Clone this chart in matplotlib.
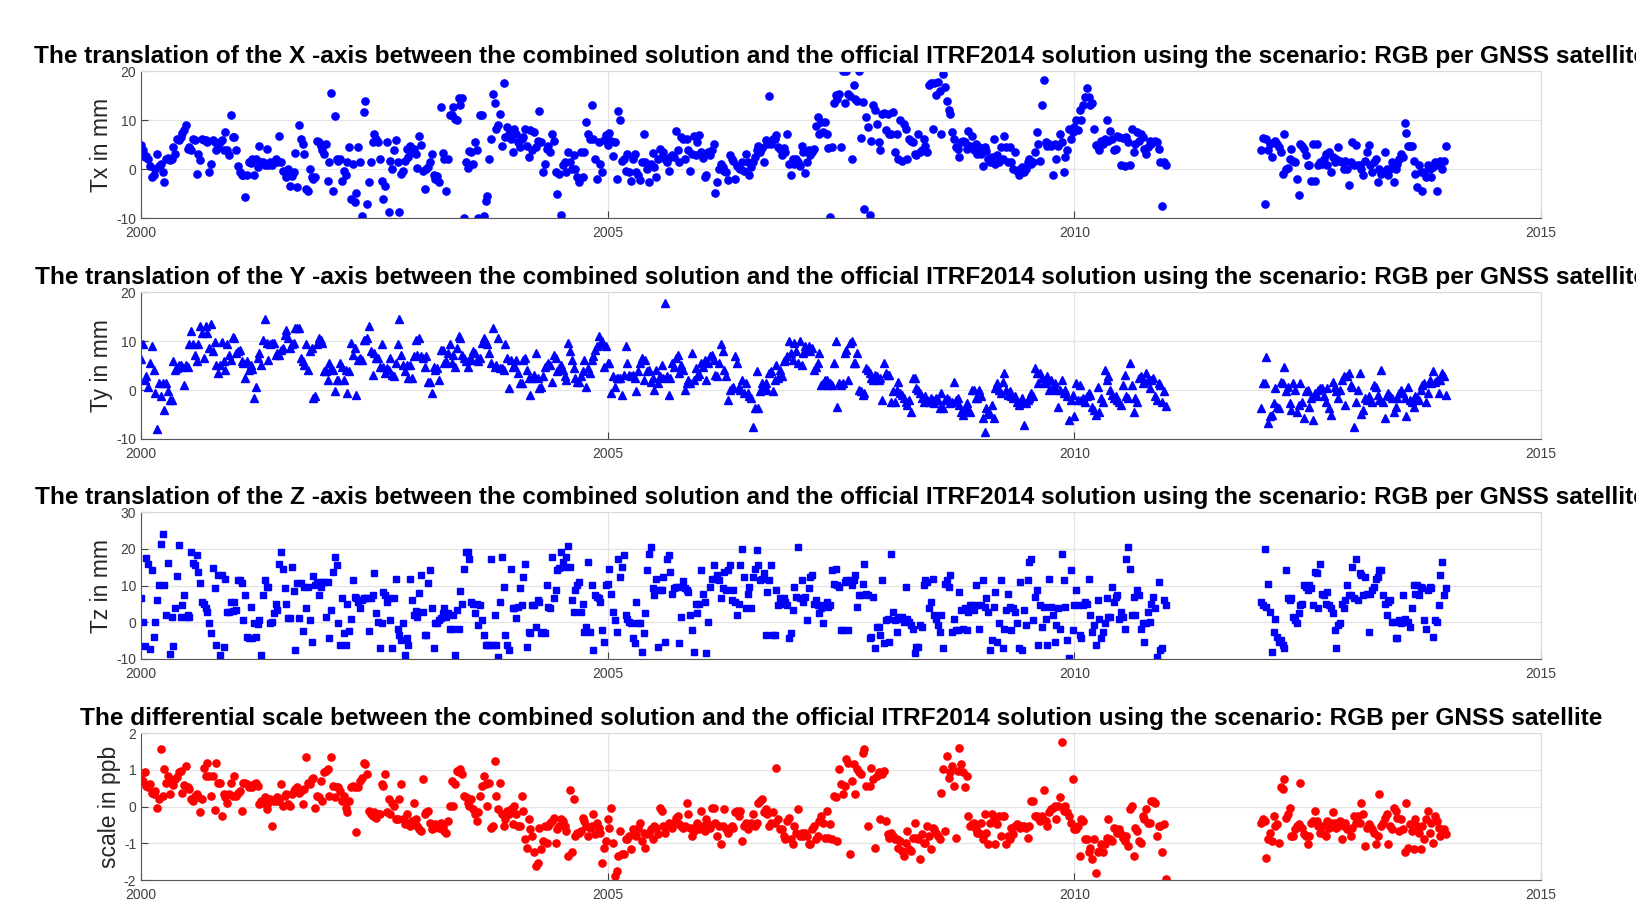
import numpy as np
import matplotlib.pyplot as plt

plt.rcParams['font.family'] = ['Liberation Sans', 'DejaVu Sans']
plt.rcParams['axes.unicode_minus'] = False

# weekly solutions: first block starts 2000.0, second block starts 2012.0
start_a = 2000.0
start_b = 2012.0
per_year = 52

# Tx [mm], weekly, 2000 .. 2010
tx_a = [
    5, 4, 2.4, 2.7, 2, 0.6, -1.7, -1.3, 0, 3, 0.7, 1, -0.6, -2.7, 2, 2.2, 1.8, 2.1, 4.5, 3,
    6.2, 6, 6.5, 7.3, 8, 9, 4.1, 4.5, 4, 6.2, 6, -1, 3, 1.8, 6.2, 6, 6, 5.5, -0.6, 1,
    6, 5.5, 4, 4.5, 5.5, 6, 4, 7.6, 4, 2.8, 11.1, 6.5,
    6.5, 4, 0.6, -0.6, -1.3, -1.2, -5.8, -1.3, 1.4, 1.3, 2, -1.3, 2, 0.4, 4.8, 1.4, 1.5, 0.8, 4.1, 0.8,
    1.4, 0.8, 1.4, 2, 1.5, 6.7, 1.4, -0.3, -0.6, -1.7, 0, -3.4, -1.5, -0.5, 3.3, -3.6, 9, 6.2, 5.2, 3.1,
    -4, -4.4, 0, -1.7, -2, -1.7, 5.8, 5.5, 4.8, 3.8, 3.1, 5.2,
    -2.4, 1.4, 15.6, -4.4, 10.8, 2, 1.7, 2, -2.4, -0.3, -1.3, 1.4, 4.5, -6.1, 1, -6.8, -4.8, 4.5, 1.4, -9.5,
    11.7, 14, -7.1, -2.7, 1.5, 5.5, 7.2, 6.2, 5.5, 2, -2.4, -6.1, -3.5, 5.6, -8.8, 1.7, 0, 3.8, 6, 1.4,
    -8.8, -1, -0.3, 1.7, 4.1, 2.4, 4.8, 3.5, 4.1, 3.1, 0.2, 6.7,
    5, -0.3, -4, 0.1, 0.4, 1.4, 3, -1.3, -2, -1.5, -2.7, 12.7, 3.3, 2, -4.4, 2, 11.1, 11, 12.7, 10.3,
    10, 14.5, 13, 14.5, -9.9, 1.4, 0.2, 3.6, 3.5, 1, 5.5, 4, -9.9, 11, 11.1, -9.5, -6.5, -5.4, 2, 6.2,
    15.4, 13.4, 8.2, 9, 11.3, 4.8, 17.5, 6.5, 8.6, 7.2, 6.2, 3.5,
    8.2, 7.2, 5.5, 4.5, 6.2, 6.5, 8.2, 4.8, 2.4, 7.9, 3.8, 7.5, 4.5, 5.8, 11.8, 5.5, -0.6, 1, 4.1, 4.8,
    3.5, 7.2, 5.8, -0.6, -5.1, -1, -9.3, 0.8, 1.4, -0.6, 3.5, 1.4, 0, 2.8, 0, -1.7, -2.7, 3.5, -1.7, 3.5,
    9.7, 7.2, 6.2, 13, 6.2, 2, -2, 5.5, 1, -0.5, 6, 7,
    5, 7.4, 5.7, 2.6, 5.5, -2, 11.9, 10, 1.6, 2, -0.3, 3.1, -0.5, -2.5, 2, 3, -0.5, -1.2, -2.3, 1.4,
    7.2, 1.5, 0, -2.6, 1, 3.3, 0.4, -1.6, 2, 4.1, 2.5, 3.5, 2, 1.4, -0.3, 2.4, 2.8, 2.4, 7.8, 3.8,
    1.4, 6.5, 6.2, 2, 6.2, 3.8, -0.3, 3.1, 6.7, 2.8, 5.5, 6.9,
    3.5, 2.2, -1.7, -1.3, 3.5, 2.8, 3.8, 5.2, -4.9, -2.7, 0, 1, 0.4, -0.3, -0.6, -2.3, 2.8, 2, 1.7, -2,
    0.7, 0.2, 0, 1.4, -0.3, 3, 1.4, -1.3, 0.4, 1.4, 2.4, 3.8, 4.8, 3.5, 4.3, 1.4, 6, 5.2, 14.9, 5.2,
    6.2, 6.2, 6.9, 4.5, 4.1, 2.8, 4.3, 3.5, 7.2, 1, -1.3, 2,
    1, 2, 1.4, 0.7, 4.8, 3.5, -0.8, 1.4, 3.8, 2.8, 3.5, 4.1, 8.9, 10.6, 7.2, 9.6, 7.5, 9.6, 7.2, 4.3,
    -9.7, 4.5, 13.4, 15.1, 14.4, 15.4, 4.5, 20, 13.4, 20, 15.4, 15, 2, 17.1, 14.4, 14, 20, 6.3, 13.7, -8.2,
    10.6, 8.6, -9.4, 5.8, 13, 12, 9.3, 5.5, 3.8, 11.3, 11.5, 8,
    11.3, 7.2, 7.2, 11.7, 3.5, 7.2, 2, 10, 1.7, 9.3, 8.2, 2, 6.2, 5.7, 5.5, 3.1, 2.8, 7.2, 3.5, 3.8,
    6.2, 4.8, 3.5, 17.1, 17.5, 8.2, 17.5, 15.1, 17.8, 16, 7.2, 19.5, 16.8, 14, 12, 11.3, 7.6, 6.2, 4.5, 4.1,
    2.4, 5.5, 5.8, 5.5, 4.1, 7.7, 4.8, 6.8, 4, 5.2, 3, 4.5,
    3.1, 0.6, 4.5, 3.6, 2, 1.4, 2.4, 6.2, 1, 2.8, 1.4, 4.5, 2, 6.8, 4.5, 1.4, 4.5, 1.4, 0, 3.5,
    -0.3, -1.3, 0, 0.4, -0.6, 0, 1.4, 2, 1, 1.4, 3.5, 7.6, 5.2, 1.7, 13, 18.2, 5.5, 4.8, 5.2, 4.8,
    -1.3, 5.2, 2, 4.8, 7.2, 5.5, -0.6, 2.4, 3.8, 8.2, 6.2, 7.5,
    8.5, 10, 8, 12, 10, 13, 14.7, 16.6, 14.7, 13, 13.4, 8.2, 5, 4.5, 3.8, 5.8, 5.2, 6.2, 10, 5.8,
    7.8, 6.2, 3.8, 4.1, 6.8, 6.5, 0.8, 6.3, 0.6, 6.5, 5.5, 0.8, 8.2, 3.5, 5.2, 7.6, 5.8, 7.2, 6.5, 4.1,
    3.1, 4.5, 5.8, 5.2, 5.5, 5.8, 5.5, 4.1, 1.4, -7.5, 1.4, 0.8,
]
# Tx [mm], weekly, 2012 .. 2013
tx_b = [
    3.8, 6.3, -7.1, 6.2, 3.8, 5.2, 2.4, 5.5, 5.8, 5.2, 4.5, 3.5, -1, 7.2, 0, 0.2, 2, 4.1, 1.7, 1.4,
    -2, -5.3, 5.2, 4.8, 4.1, 2.8, 0.8, 0.8, -2.4, 5.2, -2.4, 5.2, 0.8, 1.4, 1, 2, 3.1, 0.8, 3.5, -0.6,
    2.4, 1.4, 2, 4.5, 1.7, 1.4, 0, 1.7, 0, -3.2, 1.4, 5.5, 0.8, 5, 0.8, 0.8, 0, -1.3, 1.7, 3.5,
    5, 0.8, -0.6, 1.4, 2, -2.7, 0, -1, -0.6, 3.5, 0, -1.3, 0, 1.4, -2.7, 0, 1, 2, 3.1, 2.4,
    9.4, 7.4, 4.8, 4.8, 4.8, 1.7, -1, -3.7, 0.8, -0.6, -4.4, -0.6, -1.7, 0.8, 0, -1.7, 0.4, 1.4, -4.4, 0.8,
    1.7, 0, 1.7, 4.8,
]

# Ty [mm]
ty_a = [
    6.3, 9.3, 2.1, 2.8, 0.6, 5.5, 9, 4, -0.6, -8, 1.4, -1.3, 1.5, -4, 1.4, -0.3, -2, -2.1, 5.9, 4.1,
    4.5, 5.2, 5.2, 4.8, 1, 5.2, 4.8, 9.3, 12, 9.3, 7.2, 5.9, 9.3, 13, 11.7, 6.5, 13, 11.7, 8.6, 13.4,
    7.9, 9.8, 5.2, 3.5, 5.2, 9.8, 5.9, 4.1, 9.3, 7.2, 6.2, 10.9,
    10.6, 7.6, 7.9, 8.2, 5.9, 5.5, 2.4, 5.9, 4.1, 5.2, 4.3, -1.7, 0.6, 6.5, 7.6, 5.2, 10.3, 14.5, 9.6, 6.2,
    9.3, 9.6, 9.6, 7.2, 7.6, 7.2, 8.2, 8.6, 11.3, 12.3, 10.6, 8.6, 9.3, 9.6, 12.7, 12.7, 12.7, 6.5, 5.9, 5.2,
    9.3, 4.1, 7.9, 8.6, -1.7, -1.3, 9.3, 10.6, 10.3, 9.6, 3.8, 3.8,
    2.1, 5.5, 4.5, 4.1, -0.3, 2.1, 2.1, 5.5, 4.8, 2.1, 4.1, -0.6, 3.8, 9.6, 7.2, 8.6, -1, 6.2, 6.5, 6.2,
    10.3, 10.3, 10.6, 13, 7.9, 3.1, 7.6, 6.5, 6.5, 4.8, 9.3, 4.8, 3.5, 4.5, 4.1, 6.5, 3.1, 2.8, 5.5, 9.3,
    14.5, 7.2, 5.2, 3.8, 5.2, 2.4, 5.2, 2.4, 6.9, 10.3, 7.2, 10.6,
    6.9, 6.5, 4.8, 6.9, 1.7, 1.7, -0.6, 4.8, 4.1, 4.5, 2.1, 8.2, 8.2, 5.5, 5.9, 7.6, 9.3, 5.5, 7.2, 4.8,
    8.6, 11, 10.6, 7.2, 6.5, 5.9, 4.8, 6.2, 6.3, 7.9, 7.6, 6.2, 5.9, 6.5, 9.6, 10.6, 9.9, 9.3, 7.6, 5.5,
    12.7, 4.8, 5.2, 10.6, 4.5, 4.5, 4.1, 9.3, 6.5, 0.4, 6.2, 4.8,
    5.2, 6.2, 3.5, 1.4, 1.4, 6.2, 6.5, 4.1, 2.4, -1, 2.4, 3.1, 7.6, 2.4, 0.4, 0.7, 2.8, 4.8, 5.2, 5.5,
    5.2, 1.7, 7.2, 6.5, 3.8, 4.5, 5.2, 4.1, 2.8, 2.1, 9.6, 7.9, 6.2, 4.5, 2.4, 1.7, 1.7, 2.8, 3.8, 6.2,
    0.7, 4.5, 3.5, 6.2, 6.9, 8.2, 8.9, 11, 9.3, 10, 4.8, 8.9,
    5.5, 5.5, -0.6, 2.8, 0.7, 2.4, 2.4, 2.4, -1, 3.1, 9, 5.5, 3.1, 2.8, 3.1, 2.4, -0.3, 3.8, 5.5, 6.5,
    2.1, 6.2, 3.8, 4.1, 1.7, 2.4, 0, 4.1, 1.4, 2.8, 5.2, 2.4, 17.8, 2.8, -1, 2.4, 5.5, 4.8, 6.5, 7.2,
    3.5, 5.2, 4.1, 0, 1.4, 2.1, 1.4, 7.6, 2.1, 4.5, 2.8, 3.3,
    5.5, 4.8, 6.2, 2.1, 5.5, 6.9, 7.2, 6.2, 3.1, 2.8, 5.5, 9.3, 7.9, 4.1, 2.8, -2, 0, 0.4, 0.7, 6.9,
    5.5, 0.7, 0, 2.1, -0.6, 1.4, -0.6, -1.3, -1.7, -7.5, -3.7, 3.8, -3.7, -0.3, 1.4, 0.7, 1.4, 0, 3.5, 3.8,
    -0.3, 2.1, 5.2, 2.4, 4.1, 2.8, 5.9, 6.2, 6.9, 10, 7.6, 6.2,
    9.6, 7.9, 5.5, 10, 5.2, 7.6, 9, 8.2, 9, 7.9, 8.6, 4.1, 4.8, 5.5, 7.6, 1, 1.4, 2.1, 2.1, 1,
    1.4, 1, 5.5, 10, -3.4, 1.4, 1, 1.4, 7.6, 8.2, 2.1, 9.6, 10, 5.5, 5.5, 7.6, 0, -0.3, -1, -0.6,
    4.5, 4.1, 3.5, 2.4, 2.1, 3.1, 2.8, 2.1, 2.4, -2, 5.5, 3.5,
    3.1, 3.1, -2.4, -0.3, -2.4, 0, 1.7, -0.6, -1, -1.7, -2.4, -3, -2, -4.4, 2.4, 2.4, 0.4, 0, -0.6, -1.7,
    -2.4, -1.3, -2, -2.4, -1.7, -2, -2.7, -1.7, -2, -3.7, -0.6, -3.7, -2, -1.7, -2, -2.7, -2.4, 1.7, -2, -1.7,
    -3, -4.4, -5.1, -4, -2.7, -4, -4.4, 0, 0, -1.7, -1.7, 0,
    -1.3, -5.8, -8.5, -3.7, -4.4, -4.8, -3, -5.8, 0.4, 1.4, 0, -0.6, 1.7, 3.5, 0, -1, -0.3, -1.3, -1.7, -1.3,
    -2.4, -3, -2.4, -1.7, -7.1, -2.7, -2, -1.7, -0.6, -1.3, 4.5, 3.5, 1.4, 3.5, 2.4, 1.4, 1.7, 2.8, 0, 2.1,
    0.7, 1.4, 0, -3.4, 0, 2.1, -0.6, 0, -1.3, -6.1, -2, -1,
    -5.4, 1.4, -2, 1, -2, -1.7, -2.4, -1.3, -0.6, -1, -3.4, -4, -5.1, 0.7, -4.4, -1.7, -2.4, 4.1, 2.1, 2.8,
    0, -1, -1.7, -1.3, -2, -2.4, -3, 1, 3.1, -1.3, -1.7, 5.5, 1, -4.4, -1.7, -2.4, 2.4, 2.8, 1.4, 1.7,
    3.5, 2.1, 0.4, 2.1, 2.4, -1.3, -2, 1.4, 1, -2.4, -0.3, -3.3,
]
ty_b = [
    -3.7, 1.4, 1.4, 6.7, -6.8, -5.4, -5.1, -2.7, 0.4, -3.4, -3.7, 1.7, 1.4, 4.8, -0.3, 0.7, -2.7, -4, 1.4, 0,
    -4.4, -3, 1.4, -2.4, -5.8, -0.3, 0, -3.4, -1.7, -6.1, -0.6, -1.3, 0, 0.4, 0.4, -1.3, -2.4, 0.4, -3.7, -5.1,
    1.7, 0.7, -0.3, -1.7, 0, 2.1, 2.8, -3, 2.8, 3.5, 1, 0.7, -7.5, -2.4, 0, 3.5, -4.8, -4, -1.7, -2,
    -1.3, -2, -2.4, 1, 0.7, -1, -2, 4.1, -2.4, -5.8, -1, -0.6, -1.3, -1.7, -4.4, -3.4, -1.7, -0.6, 0, -0.6,
    -1.7, -5.4, 0.7, -2, -2.4, -3.4, -1.3, -1.7, -2, 0, 1, 1.4, -2.4, -0.6, 2.1, 1.4, 3.8, 1.7, 2.1, -0.6,
    2.1, 3.5, 2.8, -1,
]

# Tz [mm]
tz_a = [
    6.6, 0.2, -6.4, 17.5, 16, -7.3, 14.2, -3.9, 0, 6, 10.1, 21.4, 24.1, 10.1, 2, 16.2, -8.7, 1.5, -6.4, 3.8,
    12.6, 21.1, 1.5, 4.7, 7.4, 1.5, 2, 1.5, 19.1, 16.2, 15.5, 18.3, 13.7, 10.8, 5.5, 5, 3.8, 2.9, -0.3, -3,
    14.7, 9.2, -6.2, 12.8, -9, 12.8, -6.8, 11.9, 2.9, 2.9, 5.6, 3.2,
    5.6, 3.3, 11.5, 11.5, 10.6, 0.6, 7.4, -3.9, -4.3, 4.2, -4.3, -0.3, -3.9, -0.5, 0.6, -9, 7.4, 11.5, 9.7, 9.7,
    -0.3, 0.2, 2.4, 5.1, 3.3, 15.9, 19.1, 14.6, 9.2, 5.1, 1.1, 1.1, 15.1, 8.4, -7.6, 10.6, 1.1, 10.6, -2.3, 9.7,
    3.8, 9.7, 0.6, -5.3, 12.6, 10.1, 11, 7.4, 9.7, 11, 11, 1.5,
    11, -4.3, 3.3, 13.7, 17.8, 15.5, -0.3, -6.2, 6.5, -3, -6.2, 5.1, -2.3, 1, 11.5, 6.9, 6.5, 5.6, 3.8, 6,
    6.5, 6.5, 6.5, -2.3, 6.7, 7.4, 13.5, 2.4, 0.2, -7.1, -0.3, 8.3, 7.4, 5.6, 6.5, 0.6, -7.1, 6.5, 11.9, -1.7,
    -3.5, -4.8, -0.3, -8.9, -4.3, -6.2, 11.9, 6, 2, 3, 1.5, 8,
    12.8, 2.9, -3.5, -3.5, 10.8, 14.2, 3.8, -7.1, -0.3, -0.3, 0.6, 1.1, 2.4, 3.8, 1.5, 2.4, -1.7, -1.7, 2, -8.9,
    3.3, -1.9, 8.4, 5, 14.6, 19.1, 19.1, 17.3, 5.6, 5.1, 2.4, 5.1, -0.8, 4.7, 0.6, -3.6, -6.3, -6.3, -6.3, 17.3,
    -6.3, 2, -6.3, -9.5, 5.6, 17.8, 9.7, -3.5, -6.2, -7.6, 14.6, 3.8,
    3.8, 1.1, 4.2, 9.2, 4.7, 12.4, 16, -6.7, -2.6, -3, 4.7, 4.7, -1.2, 6, 5.6, -3, -2.6, -3, 10.1, 4.2,
    3.8, 17.8, 6.5, 8.7, 14.2, 14.7, 19.1, 16.4, 15.1, 17.8, 20.9, 15.1, 6, 2.9, 8.7, 10.1, 11, 2.9, 5.1, -2.6,
    -1.2, 16.4, -2.6, 10.1, -7.6, 7.4, 6.9, 6.5, 5.6, -2.1, -5.3, 10.1,
    10.5, 14.6, 7.8, 2.9, 0.6, -2.6, 17.3, 12.4, 15.1, 18.2, 1.9, 1, 0.2, -0.3, -4.3, -5.7, 5.6, -0.3, -0.3, -8,
    -3, 2.4, 14.2, 18.7, 20.5, 9.2, 7.4, 11.9, -6.7, 8.7, 8.7, 12.4, -5.3, 17.3, 18.4, 13.7, 7.8, 9.2, 9.6, 9.6,
    -5.7, 1.5, 11.2, 9.2, 8.7, 8.3, 1.9, -2.1, -8, 5.1, 2.4, 5.1,
    14.2, 7.6, 5.6, -8.5, 0.2, 9.6, 11.9, 15.5, 11.9, 12.8, 11.5, 6.5, 9.2, 13.7, 8.7, 14.2, 15.5, 6, 8.7, 5.6,
    1.9, 5.1, 15.5, 20, 12.4, 3.8, 7.8, 9.6, 3.8, 12.4, 14.6, 19.6, 15.5, 11.5, 11.9, 13.3, -3.5, 8.3, 11.5, 15.5,
    -3.5, -3.5, 8.7, 4.7, 6.5, 5.1, 6.5, 5.6, 4.7, -4.3, -3, 3.3,
    9.6, 6.9, 20.5, 6.5, 11.5, 5.6, 6.9, 0.6, 9.2, 12.4, 12.8, 5.1, 6, 4.7, 2.4, 3.8, -0.3, 4.7, 5.6, 4.2,
    4.7, 14.2, 10.5, 14.6, 10.1, 9.6, -2.1, -2.1, 11, 11.5, -2.1, 11.5, 10.1, 11.5, 12.8, 4.2, 7.4, 7.4, 10.5, 16,
    7.8, 7.4, -4.3, -3.9, 6.9, -7.1, -1.2, -1.2, -3.5, 11.5, -5.7, 0.6,
    1, -5.3, 18.7, 2.9, 0.6, -2.6, 1.5, 1, 1.5, 0.2, 9.6, 1, 0.2, -0.8, -1.7, -8.5, -6.7, -6.7, -0.8, -1.2,
    10.1, 11.5, 11, 3.8, 5.6, 11.9, 1.9, 1, -0.8, -2.6, 1.9, -7.1, 10.5, 11.5, 9.6, 12.8, -2.6, 1, -2.1, -2.1,
    8.3, 3.3, -1.7, 3.8, -2.1, 2.9, 4.7, 4.7, 3.3, 10.1, 4.7, -1.7,
    4.7, 11.5, 4.2, 6.5, 2.9, -7.6, -4.8, 4.2, 8.3, -5.3, -0.3, 11.5, -7.1, -1.7, 3.3, 7.8, 4.2, -2.1, 3.8, 2.9,
    -0.3, -7.1, 11, -7.6, 3.3, -0.8, 11.5, 16.4, 17.3, 0.6, 6.9, 8.7, -6.2, 4.7, -1.2, 4.2, 1, -6.2, 11.9, 4.2,
    1.9, -5.3, -0.8, 3.8, -1.7, 18.7, 11.5, 4.2, -4.8, -9.8, 14.2, -2.1,
    4.7, 8.7, 4.7, -3.5, -4.3, 4.7, 5.6, 5.1, 11.9, 1.9, -2.6, -0.8, -6.2, 6, 1, -4.3, -2.6, -0.3, 6.5, 1.5,
    1.5, 9.6, 5.6, 6.9, 7.4, 1, 2.9, 1.5, -1.7, 17.3, 20.5, 14.6, 1.9, 6.9, 1.9, 8.7, 7.4, -1.7, -0.3, -5.3,
    -0.3, 2.9, 0.2, 5.1, 6.9, 3.8, -9.4, 11, -7.6, -7.1, 6, 4.7,
]
tz_b = [
    5.6, 4.7, 20, 4.2, 10.5, 2.9, -8, -2.6, 1, -3.9, -5.3, -4.8, -6.2, -7.1, 14.2, 6.5, 6, 6.5, 1.5, 0.6,
    -0.3, 2.4, 4.7, 5.1, 10.1, 9.6, 8.7, 10.1, 9.2, 4.7, 13.7, 13.3, 3.8, 16, 7.8, 7.4, 5.1, 8.3, 4.7, 3.8,
    2.4, -2.1, -7.1, -0.8, -0.3, 5.1, 3.8, 6, 10.1, 7.4, 7.4, 15.1, 6.5, 17.3, 6, 13.3, 12.8, 7.4, 12.4, 7.8,
    -2.6, 7.8, 8.7, 9.6, 11.9, 12.4, 14.2, 14.2, 7.4, 5.1, 1.9, 5.6, 6, 0.2, 0.2, -4.3, -4.3, 0.6, -0.3, 7.4,
    1, 0.2, 0.2, -1.2, 3.8, 10.1, 7.8, 10.1, 7.4, 9.6, 9.2, 0.6, -1.7, 8.7, 9.6, 9.2, -3.9, 0.6, 0.2, 4.7,
    12.8, 16.4, 7.4, 9.2,
]

# differential scale [ppb]
sc_a = [
    0.75, 0.7, 0.93, 0.56, 0.52, 0.61, 0.38, 0.34, 0.43, -0.05, 0.2, 1.56, 0.29, 1.02, 0.65, 0.84, 0.34, 0.65, 0.6, 0.75,
    0.8, 0.93, 0.98, 0.38, 0.6, 1.11, 0.52, 0.47, 0.2, 0.15, 0.29, 0.34, 0.25, -0.16, 0.2, 1.06, 0.84, 1.2, 0.84, 0.29,
    0.84, -0.1, 1.2, 0.65, 0.65, -0.25, 0.34, 0.25, 0.11, 0.34, 0.65, 0.29,
    0.84, 0.29, 0.38, 0.43, -0.12, 0.65, 0.65, 0.61, 0.52, 0.56, 0.52, 0.61, 0.65, 0.56, 0.06, 0.15, 0.11, 0.25, -0.07, 0.11,
    0.2, -0.53, 0.15, 0.15, 0.25, 0.15, 0.61, 0.02, 0.29, 0.34, 0.06, 0.02, 0.34, 0.43, 0.47, 0.52, 0.38, 0.43, 0.06, 0.47,
    1.34, 0.65, 0.61, 0.75, 0.79, -0.03, 0.29, 0.25, 0.7, 0.15, 0.93, 0.98,
    1.02, 0.29, 1.34, 0.56, 0.25, 0.52, 0.52, 0.43, 0.15, 0.29, -0.03, -0.16, 0.15, 0.52, 0.56, 0.52, -0.69, 0.52, 0.7, 0.79,
    1.2, 1.15, 0.88, -0.12, -0.21, -0.25, -0.16, -0.3, -0.21, -0.21, 0.61, 0.56, 0.88, -0.16, 0.2, -0.21, 0.11, 0.02, -0.35, -0.35,
    0.2, 0.61, -0.35, -0.48, -0.21, -0.44, -0.53, -0.39, 0.11, -0.35, -0.53, -0.62,
    -0.66, 0.75, -0.21, -0.16, -0.12, -0.44, -0.62, -0.57, -0.48, -0.53, -0.57, -0.44, -0.53, -0.66, -0.71, -0.39, 0.02, 0.7, 0.02, 0.61,
    0.98, 0.93, 1.02, 0.88, 0.29, 0.25, 0.11, 0.02, 0.2, -0.07, -0.21, -0.39, -0.16, 0.29, 0.56, 0.84, 0.61, 0.02, 0.65, -0.57,
    -0.53, 1.25, 0.29, -0.07, 0.65, -0.21, -0.53, -0.35, -0.12, -0.21, -0.07, -0.48,
    0.02, -0.21, -0.53, -0.53, 0.29, -0.12, -0.89, -1.12, -0.35, -0.62, -0.8, -1.25, -1.62, -1.53, -0.57, -1.16, -0.94, -0.53, -0.98, -0.53,
    -0.44, -0.39, -0.3, -0.98, -0.62, -0.53, -0.35, -0.39, -0.53, -0.66, -1.35, 0.45, -1.25, 0.2, -0.8, -0.71, -0.71, -0.66, -0.3, -0.39,
    -0.53, -0.8, -0.57, -0.53, -0.21, -0.75, -0.44, -0.57, -0.71, -1.53, -1.12, -0.94,
    -0.35, -0.57, -0.05, -0.98, -1.89, -1.75, -1.35, -0.66, -1.3, -1.3, -0.89, -0.89, -0.8, -1.16, -0.62, -0.71, -0.8, -0.57, -0.44, -0.94,
    -0.71, -1.12, -0.75, -0.71, -0.62, -0.89, -0.53, -0.57, -0.75, -0.03, -0.12, -0.53, -0.71, -0.53, -0.44, -0.48, -0.57, -0.44, -0.3, -0.25,
    -0.48, -0.53, -0.57, -0.53, 0.11, -0.21, -0.57, -0.8, -0.66, -0.53, -0.44, -0.62,
    -0.12, -0.53, -0.66, -0.35, -0.48, -0.57, -0.03, -0.03, -0.44, -0.8, -0.53, -1.03, -0.53, -0.07, -0.62, -0.71, -0.57, -0.53, -0.57, -0.16,
    -0.12, -0.25, -0.12, -0.94, -0.53, -0.44, -0.62, -0.48, -0.44, -0.21, -0.53, -0.44, 0.11, 0.15, 0.2, -0.16, -0.07, -0.21, -0.53, -0.44,
    -0.16, -0.44, 1.04, -0.35, -0.62, -0.62, -0.8, -0.89, -0.39, -0.3, -0.89, -1.03,
    -0.53, -0.71, -0.07, -0.8, -0.71, -0.8, -0.71, -0.8, -1.03, -1.03, -0.62, -0.53, -0.89, -0.8, -0.39, -0.25, -0.44, -0.85, -0.12, -0.85,
    -0.48, -0.89, 0.29, 0.25, -0.94, 1.02, 0.61, 0.34, 0.56, 1.29, 1.2, -1.3, 0.7, 1.15, 0.34, 1.02, 0.93, 0.88, 1.47, 1.56,
    0.56, -0.53, 0.56, 1.06, 0.75, -1.12, 0.84, 0.93, -0.35, 0.88, 0.98, -0.39,
    -0.75, -0.85, -0.71, -0.8, -0.89, -0.89, -1.12, -0.94, -1.21, -1.35, -0.98, -0.66, -1.16, -1.21, -0.85, -0.44, -0.85, -0.89, -1.44, -0.75,
    -0.98, -0.98, -0.53, -0.8, -1.16, -0.57, -0.62, -0.71, -0.8, -0.89, 0.38, 1.02, -0.66, 1.38, 0.79, 0.93, 1.11, 0.56, -0.85, 0.98,
    1.6, 1.15, 0.93, 0.52, 0.84, -0.25, -0.53, -0.48, -0.44, -0.62, -0.71, -0.71,
    -0.44, -0.89, -0.21, -0.71, -1.03, -0.44, -0.21, -0.3, -1.03, -0.48, -0.25, -0.8, -0.25, -0.25, -1.03, -0.8, -0.89, -0.57, -0.75, -0.53,
    -0.48, -0.53, -0.57, -0.53, -0.53, -0.57, -0.85, -0.53, 0.15, 0.15, -0.25, -0.25, -0.3, -0.39, -0.25, 0.45, -0.39, -0.53, -0.16, -0.07,
    -0.03, 0.02, -0.35, 0.02, 0.25, 1.76, -0.12, 0.02, -0.16, -0.25, -0.44, 0.75,
    -0.62, -0.62, -0.53, -1.35, -0.35, -0.39, -0.89, -0.89, -1.25, -1.12, -1.44, -0.89, -1.8, -1.25, -1.21, -1.03, -1.25, -1.03, -0.85, -0.35,
    -0.89, -0.94, -0.57, -0.62, -0.71, -0.62, -0.75, -0.85, -0.94, -0.8, -1.07, -0.07, 0.02, -1.35, -0.57, -0.66, -0.94, -0.98, -0.25, -0.35,
    -0.07, -0.44, -0.44, 0.15, 0.15, 0.11, -0.8, -0.53, -0.53, -1.25, -0.48, -1.98,
]
sc_b = [
    -0.44, -0.35, -0.39, -1.39, -0.89, -0.71, -0.94, -0.25, -0.53, -0.48, -0.98, 0.52, 0.47, 0.75, -0.3, -0.21, -0.03, -0.8, -0.8, -0.62,
    -0.53, -0.48, 0.65, -0.57, -0.75, -0.8, -1.03, -0.8, -0.44, -0.39, -0.12, -0.39, -0.53, -0.71, -0.53, -0.75, -0.8, -0.39, -0.57, -0.44,
    -0.16, -0.44, -0.57, -0.53, -0.39, -0.89, -0.53, -0.44, -0.62, -0.62, -0.8, -0.57, -0.25, -0.44, -0.25, -0.44, 0.11, -0.21, -1.07, -0.57,
    -0.48, -0.53, -0.62, -0.71, -1.03, -0.8, 0.34, -0.53, -0.44, -0.3, -0.21, -1.03, -0.53, -0.62, -0.03, -0.12, -0.3, -0.66, -0.35, -0.62,
    -1.25, 0.11, -1.12, -0.48, -0.66, -1.16, -0.35, -0.53, -0.71, -1.16, -0.53, -0.89, -0.35, -0.12, -0.71, -0.44, -0.98, -0.25, -0.39, -0.57,
    -0.8, -0.66, -0.62, -0.75,
]

suffix = " between the combined solution and the official ITRF2014 solution using the scenario: RGB per GNSS satellite"
titles = ["The translation of the X -axis" + suffix,
          "The translation of the Y -axis" + suffix,
          "The translation of the Z -axis" + suffix,
          "The differential scale" + suffix]
ylabels = ["Tx in mm", "Ty in mm", "Tz in mm", "scale in ppb"]
yticks = [[-10, 0, 10, 20], [-10, 0, 10, 20], [-10, 0, 10, 20, 30], [-2, -1, 0, 1, 2]]
xticks = [2000, 2005, 2010, 2015]


def epochs(vals, start):
    return start + np.arange(len(vals)) / per_year


series = [(tx_a, tx_b, 'o', 'blue', 5.2),
          (ty_a, ty_b, '^', 'blue', 5.7),
          (tz_a, tz_b, 's', 'blue', 4.8),
          (sc_a, sc_b, 'o', 'red', 5.2)]
bottoms = [0.758, 0.5128, 0.2686, 0.0233]

fig = plt.figure(figsize=(16.36, 9.01), dpi=100)
for i, (va, vb, mk, col, ms) in enumerate(series):
    ax = fig.add_axes([0.0862, bottoms[i], 0.8557, 0.163])
    for vals, st in ((va, start_a), (vb, start_b)):
        ax.plot(epochs(vals, st), vals, ls='none', marker=mk, ms=ms,
                color=col, mec=col, clip_on=True)
    ax.set_xlim(2000, 2015)
    ax.set_ylim(yticks[i][0], yticks[i][-1])
    ax.set_xticks(xticks)
    ax.set_yticks(yticks[i])
    ax.grid(True, color='#e3e3e3', lw=0.9)
    ax.set_axisbelow(True)
    ax.tick_params(direction='in', length=5, width=0.8, labelsize=10,
                   colors='#404040', top=False, right=False)
    ax.tick_params(axis='x', pad=6)
    for side in ('left', 'bottom'):
        ax.spines[side].set_color('#555555')
    for side in ('top', 'right'):
        ax.spines[side].set_color('#d9d9d9')
    ax.set_ylabel(ylabels[i], fontsize=16.5, color='#262626', labelpad=2)
    ax.set_title(titles[i], fontsize=17.6, fontweight='bold', pad=6)

fig.savefig('out.png', dpi=100)
